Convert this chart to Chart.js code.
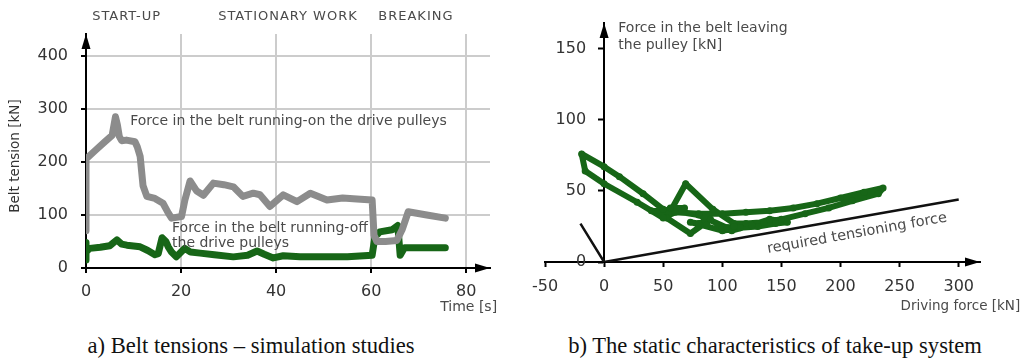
<!DOCTYPE html>
<html lang="en">
<head>
<meta charset="UTF-8" />
<title>Belt tensions and take-up characteristics</title>
<script src="https://cdn.jsdelivr.net/npm/chart.js"></script>
<style>
  body { margin: 0; background: #fff; }
  .wrap { position: relative; width: 1031px; height: 360px; overflow: hidden; }
  #beltChart { position: absolute; left: 0; top: 0; }
  #takeupChart { position: absolute; left: 515px; top: 0; }
  .caption {
    position: absolute; top: 333px;
    font-family: "Liberation Serif", "Times New Roman", serif;
    font-size: 22.6px; color: #111; white-space: nowrap;
    transform: translateX(-50%);
  }
</style>
</head>
<body>
<div class="wrap">
  <canvas id="beltChart" width="515" height="320"></canvas>
  <canvas id="takeupChart" width="516" height="320"></canvas>
  <div class="caption" style="left:251px">a) Belt tensions – simulation studies</div>
  <div class="caption" style="left:775px">b) The static characteristics of take-up system</div>
</div>
<script>
// --- a) belt tensions over time [s] -> [kN]
const timeOn = [0, 0, 0, 0, 0.3, 2, 4, 5.5, 6.2, 6.6, 7.0, 7.5, 8.5, 10.3, 10.8, 11.4, 12.0, 12.8, 14.5, 16.2, 17.3, 18.0, 20.1, 20.8, 21.9, 23.3, 24.7, 26.8, 29, 31, 33, 35.2, 36.6, 38.7, 41.5, 44.4, 47.2, 50.7, 54, 57, 60.2, 60.6, 61.2, 63, 65.4, 66.5, 67.8, 71.7, 75.6];
const tensionOn = [70, 110, 160, 205, 208, 222, 238, 250, 285, 270, 248, 240, 241, 238, 228, 210, 155, 135, 131, 122, 104, 94, 97, 128, 164, 145, 137, 160, 157, 153, 135, 141, 138, 116, 138, 125, 141, 128, 132, 130, 128, 62, 50, 50, 52, 72, 106, 100, 94];
const timeOff = [0, 0, 0, 0.8, 3, 5, 6.5, 7.5, 8.6, 11.4, 13, 14.5, 15.2, 16, 16.8, 17.3, 18, 19, 20, 20.8, 22, 24, 27, 31, 34, 36, 37.5, 39.4, 41.5, 45, 50, 55, 60.2, 60.8, 61.8, 64.4, 65.6, 66.1, 67, 71, 75.6];
const tensionOff = [15, 48, 30, 37, 39, 42, 53, 45, 43, 40, 33, 25, 27, 57, 50, 40, 30, 21, 30, 37, 30, 28, 25, 21, 24, 32, 26, 19, 23, 21, 21, 21, 24, 59, 68, 72, 80, 24, 38, 38, 38];
const beltTicksX = [0, 20, 40, 60, 80];
const beltTicksY = [0, 100, 200, 300, 400];

// --- b) force in the belt leaving the pulley vs driving force [kN]
const drivingForce = [40, 60, 80, 100, 120, 140, 160, 180, 200, 220, 236, 232, 210, 190, 170, 150, 135, 120, 110, 92, 69, 53, 73, 90, 80, 87, 73, 100, 115, 130, 145, 155, 140, 125, 108, 100, 110, 104, 80, 50, 33, 13, 0, -19, -16, 0, 28, 50, 68, 56];
const leavingForce = [36, 35, 34, 34, 35, 36, 38, 41, 45, 49, 52, 48, 43, 38, 34, 30, 28, 27, 27, 37, 55, 31, 20, 30, 27, 26, 28, 22, 24, 25, 27, 28, 30, 26, 22, 24, 25, 24, 33, 37, 48, 60, 67, 76, 64, 55, 42, 31, 38, 38];
const requiredX = [-20, 0, 300];
const requiredY = [27, 0, 44];
const takeupTicksX = [-50, 0, 50, 100, 150, 200, 250, 300];
const takeupTicksY = [0, 50, 100, 150];

const pts = (xs, ys) => xs.map((x, i) => ({ x: x, y: ys[i] }));
const GREEN = '#176617';
const GREY = '#8c8c8c';
const TEXT = '#4a4a4a';
const NOTE_FONT = '14px "DejaVu Sans"';

// arrow heads on the end of both axes
const axisArrows = {
  id: 'axisArrows',
  afterDraw(chart) {
    const { ctx, chartArea, scales: { x, y } } = chart;
    const ox = x.getPixelForValue(0);
    const oy = y.getPixelForValue(0);
    ctx.save();
    ctx.fillStyle = '#000';
    ctx.beginPath();
    ctx.moveTo(ox, chartArea.top);
    ctx.lineTo(ox - 4.5, chartArea.top + 15);
    ctx.lineTo(ox + 4.5, chartArea.top + 15);
    ctx.closePath();
    ctx.fill();
    ctx.beginPath();
    ctx.moveTo(chartArea.right, oy);
    ctx.lineTo(chartArea.right - 15, oy - 4.5);
    ctx.lineTo(chartArea.right - 15, oy + 4.5);
    ctx.closePath();
    ctx.fill();
    ctx.restore();
  }
};

// y tick labels for an axis that sits at x = 0 inside the plot
const originYLabels = {
  id: 'originYLabels',
  afterDraw(chart) {
    const { ctx, scales: { x, y } } = chart;
    const ox = x.getPixelForValue(0);
    ctx.save();
    ctx.font = '16px "DejaVu Sans"';
    ctx.fillStyle = '#333';
    ctx.textAlign = 'right';
    ctx.textBaseline = 'middle';
    y.ticks.forEach(t => ctx.fillText(String(t.value), ox - 18, y.getPixelForValue(t.value)));
    ctx.restore();
  }
};

// free text placed in data coordinates
function makeNotes(items) {
  return {
    id: 'notes',
    afterDraw(chart) {
      const { ctx, scales: { x, y } } = chart;
      items.forEach(n => {
        ctx.save();
        ctx.font = n.font || NOTE_FONT;
        ctx.fillStyle = n.color || TEXT;
        ctx.textAlign = n.align || 'left';
        ctx.textBaseline = 'middle';
        ctx.letterSpacing = n.spacing || '0px';
        ctx.translate(x.getPixelForValue(n.x), y.getPixelForValue(n.y));
        if (n.angle) ctx.rotate(n.angle(x, y));
        ctx.fillText(n.text, 0, 0);
        ctx.restore();
      });
    }
  };
}

const tickFont = { family: 'DejaVu Sans', size: 16 };

new Chart(document.getElementById('beltChart'), {
  type: 'line',
  data: {
    datasets: [
      { data: pts(timeOn, tensionOn), borderColor: GREY, borderWidth: 7, pointRadius: 0,
        borderJoinStyle: 'round', borderCapStyle: 'round' },
      { data: pts(timeOff, tensionOff), borderColor: GREEN, borderWidth: 7, pointRadius: 0,
        borderJoinStyle: 'round', borderCapStyle: 'round' }
    ]
  },
  options: {
    responsive: false,
    animation: false,
    layout: { padding: { top: 34, right: 25, left: 0, bottom: 0 } },
    plugins: { legend: { display: false }, tooltip: { enabled: false } },
    scales: {
      x: {
        type: 'linear', min: 0, max: 85,
        afterBuildTicks: s => { s.ticks = beltTicksX.map(v => ({ value: v })); },
        afterFit: s => { s.height = 52; },
        grid: { color: '#cccccc', lineWidth: 2, tickColor: '#000', tickLength: 5, tickWidth: 2 },
        border: { color: '#000', width: 2 },
        ticks: { font: tickFont, color: '#333', padding: 9, maxRotation: 0 }
      },
      y: {
        type: 'linear', min: 0, max: 441,
        afterBuildTicks: s => { s.ticks = beltTicksY.map(v => ({ value: v })); },
        afterFit: s => { s.width = 86; },
        grid: { color: '#cccccc', lineWidth: 2, tickColor: '#000', tickLength: 5, tickWidth: 2 },
        border: { color: '#000', width: 2 },
        ticks: { font: tickFont, color: '#333', padding: 13 }
      }
    }
  },
  plugins: [axisArrows, makeNotes([
    { text: 'START-UP', x: 1.3, y: 473, font: '13px "DejaVu Sans"', spacing: '1px' },
    { text: 'STATIONARY WORK', x: 27.8, y: 473, font: '13px "DejaVu Sans"', spacing: '1px' },
    { text: 'BREAKING', x: 61.5, y: 473, font: '13px "DejaVu Sans"', spacing: '1px' },
    { text: 'Force in the belt running-on the drive pulleys', x: 9.3, y: 277 },
    { text: 'Force in the belt running-off', x: 18.1, y: 75 },
    { text: 'the drive pulleys', x: 18.1, y: 46 },
    { text: 'Time [s]', x: 86.5, y: -74, align: 'right' },
    { text: 'Belt tension [kN]', x: -14.8, y: 211, align: 'center', font: '13.5px "DejaVu Sans"',
      color: '#333', angle: () => -Math.PI / 2 }
  ])]
});

new Chart(document.getElementById('takeupChart'), {
  type: 'scatter',
  data: {
    datasets: [
      { data: pts(drivingForce, leavingForce), showLine: true, borderColor: GREEN, borderWidth: 6,
        pointRadius: 3.5, pointBackgroundColor: GREEN, pointBorderWidth: 0,
        borderJoinStyle: 'round', borderCapStyle: 'round' },
      { data: pts(requiredX, requiredY), showLine: true, borderColor: '#111', borderWidth: 2.5,
        pointRadius: 0 }
    ]
  },
  options: {
    responsive: false,
    animation: false,
    layout: { padding: { top: 23, right: 51, left: 30, bottom: 0 } },
    plugins: { legend: { display: false }, tooltip: { enabled: false } },
    scales: {
      x: {
        type: 'linear', min: -50, max: 318,
        afterBuildTicks: s => { s.ticks = takeupTicksX.map(v => ({ value: v })); },
        afterFit: s => { s.height = 58; },
        grid: { drawOnChartArea: false, tickColor: '#000', tickLength: 5, tickWidth: 2 },
        border: { color: '#000', width: 2 },
        ticks: { font: tickFont, color: '#333', padding: 10, maxRotation: 0 }
      },
      y: {
        type: 'linear', min: 0, max: 168, position: { x: 0 },
        afterBuildTicks: s => { s.ticks = takeupTicksY.map(v => ({ value: v })); },
        grid: { drawOnChartArea: false, tickColor: '#000', tickLength: 5, tickWidth: 2 },
        border: { color: '#000', width: 2 },
        ticks: { display: false }
      }
    }
  },
  plugins: [axisArrows, originYLabels, makeNotes([
    { text: 'Force in the belt leaving', x: 12, y: 164 },
    { text: 'the pulley [kN]', x: 12, y: 152 },
    { text: 'Driving force [kN]', x: 352, y: -31, align: 'right', font: '13.5px "DejaVu Sans"' },
    { text: 'required tensioning force', x: 214, y: 20, align: 'center', font: '14.5px "DejaVu Sans"',
      angle: (x, y) => Math.atan2(y.getPixelForValue(requiredY[2]) - y.getPixelForValue(requiredY[1]),
                                  x.getPixelForValue(requiredX[2]) - x.getPixelForValue(requiredX[1])) }
  ])]
});
</script>
</body>
</html>
